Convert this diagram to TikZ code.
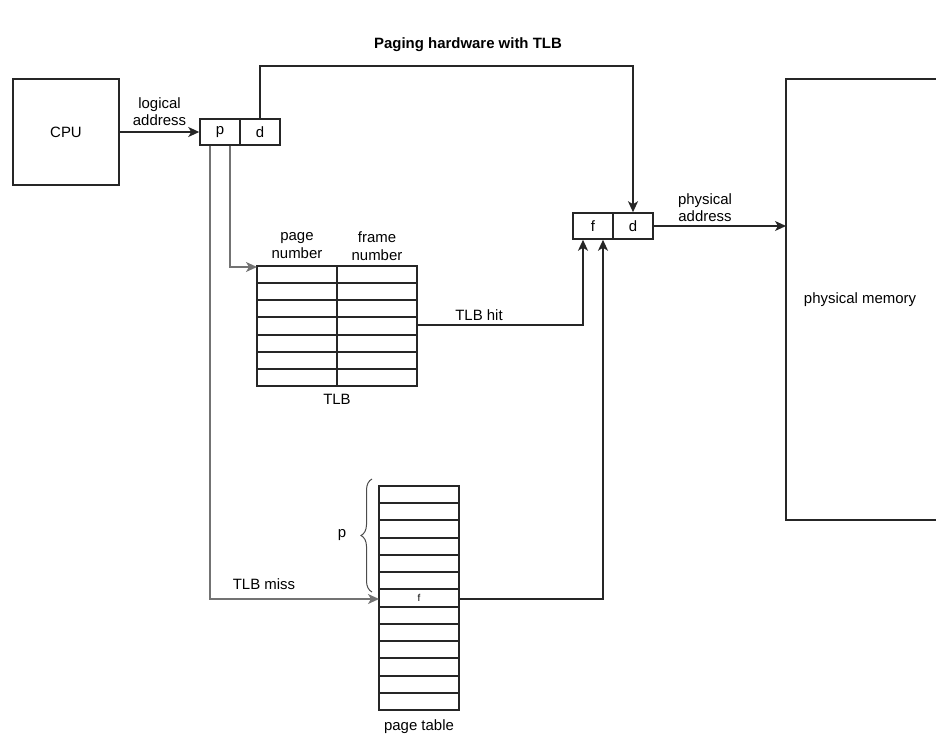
\documentclass[tikz,border=0pt]{standalone}
\usepackage{fontspec}
\setmainfont{Liberation Sans}
\usetikzlibrary{arrows.meta,decorations.pathreplacing}
\begin{document}
\begin{tikzpicture}[x=1bp,y=-1bp,
  every node/.style={font=\fontsize{15}{18}\selectfont, inner sep=0pt},
  box/.style={draw=black!85, line width=1.5bp},
  conn/.style={draw=black!85, line width=1.5bp},
  gconn/.style={draw=black!55, line width=1.5bp},
  arr/.style={-{Stealth[length=11bp,width=10bp,inset=3bp]}},
  lbl/.style={align=center}]
\useasboundingbox (0,0) rectangle (936,735);
\begin{scope}
\clip (0,0) rectangle (936,735);

% title
\node[font=\bfseries\fontsize{15}{18}\selectfont] (title) at (468,45) {Paging hardware with TLB};

% CPU
\node[box, minimum width=106bp, minimum height=106bp] (cpu) at (66,132) {CPU};

% p | d
\node[box, minimum width=40bp, minimum height=26bp] (p) at (220,132) {p};
\node[box, minimum width=40bp, minimum height=26bp] (d) at (260,132) {d};

% f | d
\node[box, minimum width=40bp, minimum height=26bp] (f2) at (593,226) {f};
\node[box, minimum width=40bp, minimum height=26bp] (d2) at (633,226) {d};

% physical memory
\node[box, outer sep=0pt, minimum width=160bp, minimum height=441bp] (mem) at (866,299.5) {};
\node (memlbl) at (860,300) {physical memory};

% TLB
\node[minimum width=160bp, minimum height=120bp, anchor=north west] (tlb) at (257,266) {};
\foreach \i in {1,...,6} {
  \pgfmathsetmacro{\yy}{round(266+\i*120/7)}
  \draw[box] (257,\yy) -- (417,\yy);
}
\draw[box] (337,266) -- (337,386);
\draw[box] (257,266) rectangle (417,386);
\node[lbl] (hpage) at (297,246) {page\\number};
\node[lbl] (hframe) at (377,246) {frame\\number};
\node (tlblbl) at (337,399) {TLB};

% page table
\node[minimum width=80bp, minimum height=224bp, anchor=north west] (pt) at (379,486) {};
\foreach \i in {1,...,12} {
  \pgfmathsetmacro{\yy}{round(486+\i*224/13)}
  \draw[box] (379,\yy) -- (459,\yy);
}
\draw[box] (379,486) rectangle (459,710);
\node[font=\fontsize{10}{12}\selectfont] (frow) at (419,598) {f};
\node (ptlbl) at (419,727) {page table};

% brace
\draw[line width=1bp, black!70, decorate, decoration={brace, amplitude=11bp}] (372,592) -- (372,479) coordinate[midway] (bmid);
\node (plbl) at (342,535) {p};

% connectors
\draw[conn, arr] (cpu.east) -- (p.west) node[midway, above=6bp, lbl, font=\fontsize{15}{17}\selectfont] (lalbl) {logical\\address};

\draw[conn, arr] (d.north) -- (260,66) -- (633,66) -- (d2.north);

\draw[conn, arr] (d2.east) -- (mem.west |- d2.east);
\node[lbl, font=\fontsize{15}{17}\selectfont] (palbl) at (705,208) {physical\\address};

\draw[gconn, arr] (p.south -| 230,0) -- (230,267) -- (tlb.north west |- 0,267);
\draw[gconn, arr] (p.south -| 210,0) -- (210,599) -- (pt.west |- 0,599);
\node (misslbl) at (264,584) {TLB miss};

\draw[conn, arr] (417,325) -- (583,325) -- (f2.south -| 583,0);
\node (hitlbl) at (479,315) {TLB hit};

\draw[conn, arr] (459,599) -- (603,599) -- (f2.south -| 603,0);
\end{scope}
\end{tikzpicture}
\end{document}
